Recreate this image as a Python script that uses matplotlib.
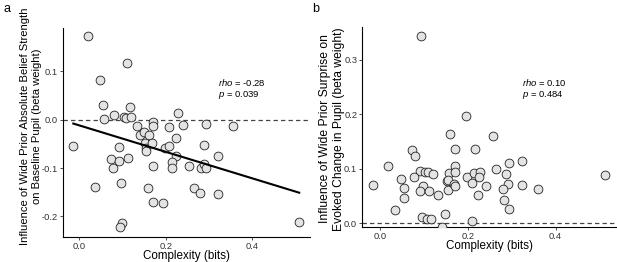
import matplotlib
matplotlib.use("Agg")
import matplotlib.pyplot as plt
import numpy as np

plt.rcParams['font.family'] = ['Liberation Sans', 'DejaVu Sans']
plt.rcParams['mathtext.fontset'] = 'custom'
plt.rcParams['mathtext.rm'] = 'Liberation Sans'
plt.rcParams['mathtext.it'] = 'Liberation Sans:italic'

# Panel a data
x_a = [0.020, 0.109, 0.048, 0.054, 0.057, 0.080, 0.103, 0.107, 0.118, 0.120,
       -0.014, 0.035, 0.074, 0.078, 0.091, 0.092, 0.112, 0.096, 0.099, 0.095,
       0.133, 0.140, 0.149, 0.160, 0.151, 0.155, 0.155, 0.169, 0.169, 0.167,
       0.169, 0.159, 0.170, 0.194, 0.197, 0.207, 0.208, 0.227, 0.240, 0.223,
       0.223, 0.214, 0.215, 0.254, 0.264, 0.279, 0.280, 0.287, 0.292, 0.289,
       0.293, 0.321, 0.321, 0.356, 0.508]
y_a = [0.173, 0.117, 0.082, 0.030, 0.001, 0.010, 0.006, 0.003, 0.026, 0.005,
       -0.054, -0.139, -0.081, -0.099, -0.056, -0.085, -0.079, -0.130, -0.214, -0.221,
       -0.014, -0.032, -0.025, -0.031, -0.049, -0.058, -0.064, -0.005, -0.013, -0.049,
       -0.095, -0.141, -0.171, -0.173, -0.059, -0.054, -0.016, 0.013, -0.010, -0.038,
       -0.075, -0.088, -0.099, -0.095, -0.141, -0.152, -0.099, -0.092, -0.099, -0.053,
       -0.009, -0.075, -0.153, -0.013, -0.211]
line_a_x = [-0.014, 0.508]
line_a_y = [-0.008, -0.151]

# Panel b data
x_b = [0.094, 0.196, 0.159, 0.257, 0.074, 0.080, 0.170, 0.216, 0.019, 0.172,
       0.294, 0.323, 0.091, 0.103, 0.109, 0.120, 0.077, 0.158, 0.172, 0.198,
       0.214, 0.228, 0.225, 0.265, 0.288, 0.047, 0.056, 0.055, 0.034, -0.015,
       0.099, 0.091, 0.112, 0.133, 0.152, 0.156, 0.155, 0.169, 0.172, 0.210,
       0.224, 0.241, 0.291, 0.280, 0.282, 0.295, 0.323, 0.359, 0.513, 0.095,
       0.108, 0.116, 0.149, 0.142, 0.209]
y_b = [0.344, 0.198, 0.165, 0.160, 0.135, 0.124, 0.137, 0.137, 0.105, 0.106,
       0.111, 0.115, 0.097, 0.094, 0.094, 0.091, 0.086, 0.092, 0.094, 0.085,
       0.092, 0.094, 0.085, 0.100, 0.091, 0.081, 0.065, 0.047, 0.024, 0.070,
       0.069, 0.060, 0.059, 0.053, 0.078, 0.080, 0.061, 0.072, 0.069, 0.075,
       0.053, 0.069, 0.073, 0.063, 0.043, 0.026, 0.070, 0.064, 0.089, 0.011,
       0.009, 0.009, 0.017, -0.006, 0.004]

xticks = [0.0, 0.2, 0.4]
xticklabels = ["0.0", "0.2", "0.4"]
yticks_a = [-0.2, -0.1, 0.0, 0.1]
ytlabels_a = ["-0.2", "-0.1", "0.0", "0.1"]
yticks_b = [0.0, 0.1, 0.2, 0.3]
ytlabels_b = ["0.0", "0.1", "0.2", "0.3"]

W, H = 617, 262
fig = plt.figure(figsize=(W / 100, H / 100), dpi=100)

def px_axes(l, r, t, b):
    return fig.add_axes([l / W, 1 - b / H, (r - l) / W, (b - t) / H])

ax_a = px_axes(62.5, 310, 28.3, 236.7)
ax_b = px_axes(362.3, 617, 26.7, 227.3)

def style(ax):
    for s in ['top', 'right']:
        ax.spines[s].set_visible(False)
    for s in ['left', 'bottom']:
        ax.spines[s].set_linewidth(0.8)
        ax.spines[s].set_color('black')
    ax.tick_params(axis='both', length=2.5, width=0.6, color='#333333',
                   labelsize=6.7, labelcolor='#333333', pad=1.2)
    ax.set_xticks(xticks)
    ax.set_xticklabels(xticklabels)
    ax.set_xlabel("Complexity (bits)", fontsize=8.4, labelpad=-0.8)

mk = dict(s=40, facecolor='#e3e3e3', edgecolor='#222222', linewidths=0.6, zorder=3)

# Panel a
ax_a.axhline(0, color='#444444', lw=0.9, ls=(0, (3.5, 2.5)), zorder=1)
ax_a.scatter(x_a, y_a, **mk)
ax_a.plot(line_a_x, line_a_y, color='black', lw=1.5, zorder=4)
ax_a.set_xlim(-0.039, 0.533)
ax_a.set_ylim(-0.242, 0.189)
ax_a.set_yticks(yticks_a)
ax_a.set_yticklabels(ytlabels_a)
style(ax_a)
ax_a.set_ylabel("Influence of Wide Prior Absolute Belief Strength\non Baseline Pupil (beta weight)",
                fontsize=8.1, linespacing=1.25)
ax_a.yaxis.set_label_coords(-0.081, 0.532)
ax_a.text(0.321, 0.076, r"$\it{rho}$ = -0.28", fontsize=6.8, va='center')
ax_a.text(0.321, 0.052, r"$\it{p}$ = 0.039", fontsize=6.8, va='center')

# Panel b
ax_b.axhline(0, color='#444444', lw=0.9, ls=(0, (3.5, 2.5)), zorder=1)
ax_b.scatter(x_b, y_b, **mk)
ax_b.set_xlim(-0.040, 0.54)
ax_b.set_ylim(-0.007, 0.361)
ax_b.set_yticks(yticks_b)
ax_b.set_yticklabels(ytlabels_b)
style(ax_b)
ax_b.set_ylabel("Influence of Wide Prior Surprise on\nEvoked Change in Pupil (beta weight)",
                fontsize=8.7, linespacing=1.2)
ax_b.yaxis.set_label_coords(-0.069, 0.49)
ax_b.text(0.323, 0.259, r"$\it{rho}$ = 0.10", fontsize=6.8, va='center')
ax_b.text(0.323, 0.235, r"$\it{p}$ = 0.484", fontsize=6.8, va='center')

fig.text(3 / W, 1 - 9 / H, "a", fontsize=9, va='center', ha='left')
fig.text(312 / W, 1 - 9 / H, "b", fontsize=9, va='center', ha='left')

fig.savefig("out.png", dpi=100)
